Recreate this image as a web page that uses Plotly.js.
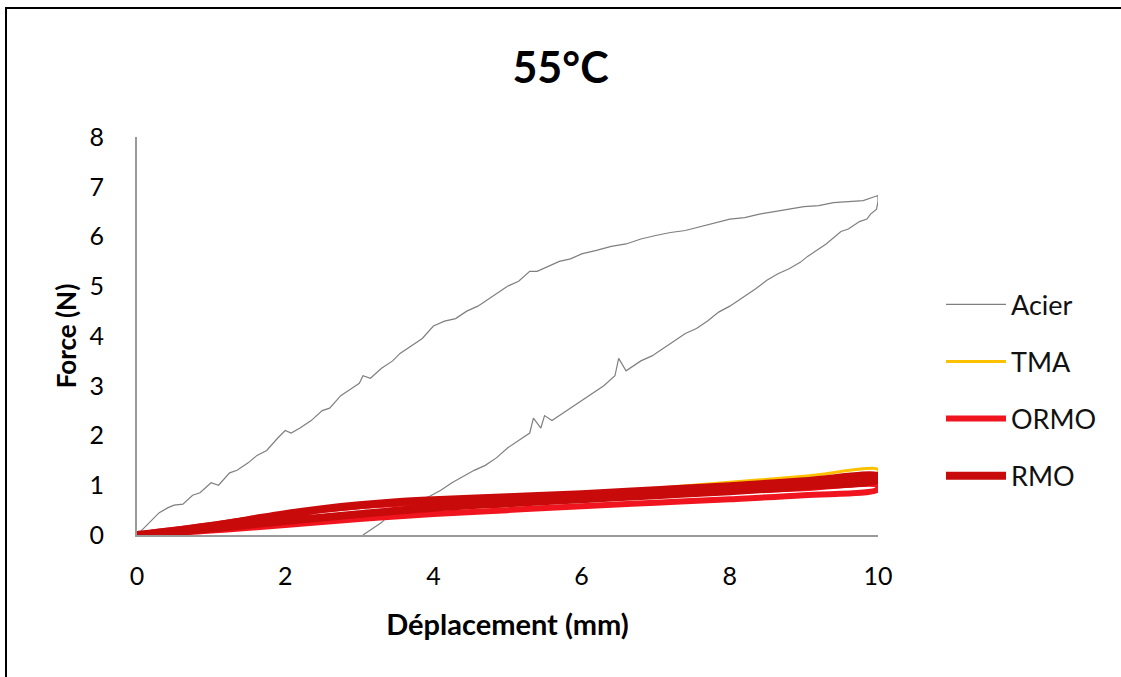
<!DOCTYPE html>
<html>
<head>
<meta charset="utf-8">
<script src="https://cdn.plot.ly/plotly-3.0.1.min.js"></script>
<style>
  html, body { margin: 0; padding: 0; background: #fff; overflow: hidden; }
  #wrap { position: relative; width: 1121px; height: 677px; overflow: hidden; }
  #chart { position: absolute; left: 0; top: 0; width: 1121px; height: 677px; }
  #frame { position: absolute; left: 5px; top: 7px; width: 1300px; height: 800px;
           border-top: 2px solid #000; border-left: 2px solid #000; pointer-events: none; }
</style>
</head>
<body>
<div id="wrap"><div id="chart"></div><div id="frame"></div></div>
<script>
// ---- Data ----
const acierX = [0, 0.15, 0.3, 0.42, 0.5, 0.62, 0.75, 0.85, 1.0, 1.1, 1.25, 1.35, 1.5, 1.62, 1.75, 1.9, 2.0, 2.08, 2.2, 2.35, 2.5, 2.6, 2.75, 2.9, 3.0, 3.05, 3.15, 3.3, 3.45, 3.55, 3.7, 3.85, 4.0, 4.15, 4.3, 4.45, 4.6, 4.75, 4.9, 5.0, 5.15, 5.3, 5.4, 5.55, 5.7, 5.85, 6.0, 6.2, 6.4, 6.6, 6.8, 7.0, 7.2, 7.4, 7.6, 7.8, 8.0, 8.2, 8.4, 8.6, 8.8, 9.0, 9.2, 9.4, 9.6, 9.8, 9.95, 10.0,
  10.0, 9.98, 9.9, 9.85, 9.75, 9.6, 9.5, 9.4, 9.3, 9.2, 9.05, 8.95, 8.8, 8.65, 8.5, 8.35, 8.2, 8.0, 7.85, 7.7, 7.55, 7.4, 7.25, 7.1, 6.95, 6.8, 6.6, 6.5, 6.45, 6.3, 6.15, 6.0, 5.85, 5.75, 5.6, 5.5, 5.45, 5.35, 5.3, 5.15, 5.0, 4.85, 4.7, 4.55, 4.4, 4.25, 4.1, 3.95, 3.8, 3.65, 3.5, 3.4, 3.3, 3.2, 3.1, 3.05];
const acierY = [0, 0.22, 0.45, 0.55, 0.6, 0.62, 0.8, 0.85, 1.05, 1.0, 1.25, 1.3, 1.45, 1.6, 1.7, 1.95, 2.1, 2.05, 2.15, 2.3, 2.5, 2.55, 2.8, 2.95, 3.05, 3.2, 3.15, 3.35, 3.5, 3.65, 3.8, 3.95, 4.2, 4.3, 4.35, 4.5, 4.6, 4.75, 4.9, 5.0, 5.1, 5.3, 5.3, 5.4, 5.5, 5.55, 5.65, 5.72, 5.8, 5.85, 5.95, 6.02, 6.08, 6.12, 6.2, 6.28, 6.35, 6.38, 6.45, 6.5, 6.55, 6.6, 6.62, 6.68, 6.7, 6.72, 6.8, 6.82,
  6.7, 6.55, 6.45, 6.35, 6.3, 6.15, 6.1, 5.98, 5.85, 5.75, 5.6, 5.48, 5.35, 5.25, 5.12, 4.95, 4.8, 4.6, 4.48, 4.3, 4.15, 4.05, 3.9, 3.75, 3.6, 3.5, 3.3, 3.55, 3.2, 3.0, 2.85, 2.7, 2.55, 2.45, 2.3, 2.4, 2.15, 2.35, 2.05, 1.9, 1.75, 1.55, 1.4, 1.3, 1.18, 1.05, 0.9, 0.78, 0.7, 0.55, 0.45, 0.4, 0.25, 0.15, 0.05, 0];

const tmaX = [0, 1, 2, 3, 4, 5, 6, 7, 8, 9, 10, 10, 9, 8, 7, 6, 5, 4, 3, 2, 1, 0];
const tmaY = [0, 0.18, 0.4, 0.58, 0.68, 0.76, 0.84, 0.94, 1.06, 1.18, 1.32, 1.25, 1.02, 0.9, 0.8, 0.7, 0.6, 0.5, 0.38, 0.24, 0.1, 0];

const ormoX = [0, 1, 2, 3, 4, 5, 6, 7, 8, 9, 10, 10, 9, 8, 7, 6, 5, 4, 3, 2, 1, 0];
const ormoY = [0, 0.2, 0.42, 0.58, 0.66, 0.72, 0.77, 0.82, 0.88, 0.94, 1.0, 0.92, 0.8, 0.72, 0.65, 0.58, 0.5, 0.42, 0.32, 0.2, 0.09, 0];

const rmoX = [0, 0.5, 1, 1.5, 2, 2.5, 3, 3.5, 4, 5, 6, 7, 8, 9, 10, 10, 9, 8, 7, 6, 5, 4, 3, 2, 1, 0.5, 0];
const rmoY = [0, 0.08, 0.18, 0.3, 0.42, 0.52, 0.6, 0.66, 0.7, 0.76, 0.82, 0.9, 0.98, 1.08, 1.18, 1.12, 0.98, 0.88, 0.8, 0.72, 0.64, 0.55, 0.42, 0.28, 0.13, 0.06, 0];

const seriesNames = ['Acier', 'TMA', 'ORMO', 'RMO'];
const xTicks = [0, 2, 4, 6, 8, 10];
const yTicks = [0, 1, 2, 3, 4, 5, 6, 7, 8];

const FONT = 'Lato, "Open Sans", "DejaVu Sans", sans-serif';

const traces = [
  { x: acierX, y: acierY, name: seriesNames[0], mode: 'lines', legendgroup: 'a',
    line: { color: '#7f7f7f', width: 1.2 }, cliponaxis: false },
  { x: tmaX, y: tmaY, name: seriesNames[1], mode: 'lines', legendgroup: 'b',
    line: { color: '#FFC000', width: 3, shape: 'spline' }, cliponaxis: false },
  { x: ormoX, y: ormoY, name: seriesNames[2], mode: 'lines', legendgroup: 'c',
    line: { color: '#F0141E', width: 6, shape: 'spline' }, cliponaxis: false },
  { x: rmoX, y: rmoY, name: seriesNames[3], mode: 'lines', legendgroup: 'd',
    line: { color: '#C80A0A', width: 8, shape: 'spline' }, cliponaxis: false }
];

const layout = {
  width: 1121, height: 677,
  paper_bgcolor: '#ffffff', plot_bgcolor: '#ffffff',
  margin: { l: 137, r: 243, t: 137, b: 142, pad: 0 },
  font: { family: FONT, color: '#000', size: 25 },
  title: { text: '<b>55°C</b>', x: 0.5, xref: 'container', xanchor: 'center',
           y: 0.9, yref: 'container', yanchor: 'middle',
           font: { family: FONT, size: 43, color: '#000' } },
  xaxis: {
    range: [0, 10], tickvals: xTicks, ticktext: xTicks.map(String),
    showgrid: false, zeroline: false, showline: true, linecolor: '#9a9a9a', linewidth: 2,
    ticks: '', ticklabelstandoff: 18,
    tickfont: { family: FONT, size: 25, color: '#000' },
    title: { text: '<b>Déplacement (mm)</b>', standoff: 26, font: { family: FONT, size: 29, color: '#000' } }
  },
  yaxis: {
    range: [0, 8], tickvals: yTicks, ticktext: yTicks.map(String),
    showgrid: false, zeroline: false, showline: true, linecolor: '#9a9a9a', linewidth: 2,
    ticks: '', ticklabelstandoff: 26,
    tickfont: { family: FONT, size: 25, color: '#000' },
    title: { text: '<b>Force (N)</b>', standoff: 5, font: { family: FONT, size: 26, color: '#000' } }
  },
  showlegend: true,
  legend: {
    x: 1.085, xanchor: 'left', y: 0.64, yanchor: 'top',
    traceorder: 'grouped', tracegroupgap: 19, itemwidth: 60,
    font: { family: FONT, size: 27, color: '#111' },
    bgcolor: 'rgba(0,0,0,0)'
  }
};

Plotly.newPlot('chart', traces, layout, { displayModeBar: false, staticPlot: true });
</script>
</body>
</html>
